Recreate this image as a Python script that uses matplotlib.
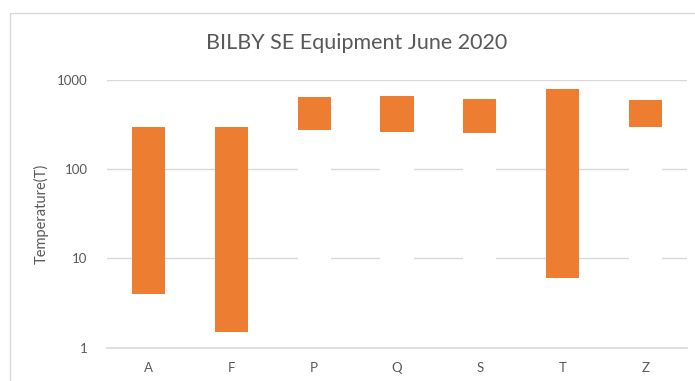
import matplotlib
matplotlib.use('Agg')
import matplotlib.pyplot as plt
from matplotlib.patches import Rectangle

plt.rcParams['font.family'] = ['Lato', 'DejaVu Sans']

categories = ['A', 'F', 'P', 'Q', 'S', 'T', 'Z']
low = [4.0, 1.5, 272, 263, 253, 6.0, 300]
high = [300, 300, 640, 655, 612, 800, 592]

orange = '#ED7D31'
grid = '#D9D9D9'
text = '#595959'

W, H = 695, 381
fig = plt.figure(figsize=(W / 100, H / 100), dpi=100)
ax = fig.add_axes([107 / W, 1 - 347.7 / H, (687 - 107) / W, (347.7 - 80) / H])

x = range(len(categories))
span = [h - l for h, l in zip(high, low)]
base = [l - 1 for l in low]

# white base hides the gridlines under each floating bar
ax.bar(x, base, bottom=1, width=0.4, color='white', zorder=2)
ax.bar(x, span, bottom=low, width=0.4, color=orange, zorder=3)

ax.set_yscale('log')
ax.set_ylim(1, 1000)
ax.set_xlim(-0.5, len(categories) - 0.5)
ax.set_yticks([1, 10, 100, 1000])
ax.set_yticklabels(['1', '10', '100', '1000'])
ax.minorticks_off()
ax.set_xticks(list(x))
ax.set_xticklabels(categories)
ax.tick_params(length=0, colors=text, labelsize=9.5, pad=10)
ax.tick_params(axis='y', pad=14)
ax.yaxis.grid(True, color=grid, linewidth=1, zorder=1)
ax.set_axisbelow(True)
for side in ['top', 'right', 'left']:
    ax.spines[side].set_visible(False)
ax.spines['bottom'].set_color(grid)
ax.spines['bottom'].set_linewidth(1.2)

ax.set_ylabel('Temperature(T)', color=text, fontsize=10.5, labelpad=6)

fig.text(357 / W, 1 - 43 / H, 'BILBY SE Equipment June 2020', ha='center',
         va='center', color=text, fontsize=15.5)

fig.patches.append(Rectangle((9.5 / W, -0.1), 1.2, 1.1 - 13 / H,
                             transform=fig.transFigure, fill=False,
                             edgecolor=grid, linewidth=1))

fig.savefig('out.png', dpi=100)
